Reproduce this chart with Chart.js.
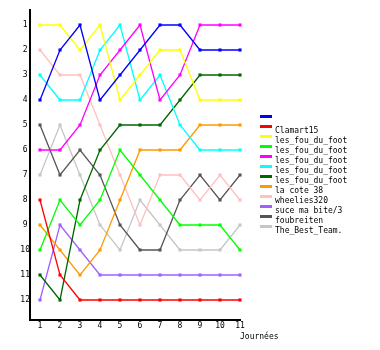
<!DOCTYPE html>
<html>
<head>
<meta charset="utf-8">
<script src="https://cdn.jsdelivr.net/npm/chart.js@4.4.1/dist/chart.umd.min.js"></script>
<style>
    html, body { margin: 0; padding: 0; background: #fff; }
    canvas { display: block; }
</style>
</head>
<body>
<canvas id="classement" width="380" height="350"></canvas>
<script>
// Classement par journée (1 = premier)
const journees = [1, 2, 3, 4, 5, 6, 7, 8, 9, 10, 11];
const rangTicks = [1, 2, 3, 4, 5, 6, 7, 8, 9, 10, 11, 12];

const equipes = ['', 'Clamart15', 'les_fou_du_foot', 'les_fou_du_foot', 'les_fou_du_foot',
    'les_fou_du_foot', 'les_fou_du_foot', 'la cote 38', 'wheelies320', 'suce ma bite/3',
    'foubreiten', 'The_Best_Team.'];
const couleurs = ['#0000ff', '#ff0000', '#ffff00', '#00ff00', '#ff00ff', '#00ffff',
    '#006600', '#ff9900', '#ffc0c0', '#a060ff', '#555555', '#c6c6c6'];

const rangBleu      = [4, 2, 1, 4, 3, 2, 1, 1, 2, 2, 2];
const rangClamart   = [8, 11, 12, 12, 12, 12, 12, 12, 12, 12, 12];
const rangJaune     = [1, 1, 2, 1, 4, 3, 2, 2, 4, 4, 4];
const rangVert      = [10, 8, 9, 8, 6, 7, 8, 9, 9, 9, 10];
const rangMagenta   = [6, 6, 5, 3, 2, 1, 4, 3, 1, 1, 1];
const rangCyan      = [3, 4, 4, 2, 1, 4, 3, 5, 6, 6, 6];
const rangVertFonce = [11, 12, 8, 6, 5, 5, 5, 4, 3, 3, 3];
const rangCote38    = [9, 10, 11, 10, 8, 6, 6, 6, 5, 5, 5];
const rangWheelies  = [2, 3, 3, 5, 7, 9, 7, 7, 8, 7, 8];
const rangSuce      = [12, 9, 10, 11, 11, 11, 11, 11, 11, 11, 11];
const rangFoubreit  = [5, 7, 6, 7, 9, 10, 10, 8, 7, 8, 7];
const rangBestTeam  = [7, 5, 7, 9, 10, 8, 9, 10, 10, 10, 9];

const series = [rangBleu, rangClamart, rangJaune, rangVert, rangMagenta, rangCyan,
    rangVertFonce, rangCote38, rangWheelies, rangSuce, rangFoubreit, rangBestTeam];

const police = '"DejaVu Sans Mono", "Liberation Mono", monospace';

// Legende + titre d'axe dessines a la main (position fixe a droite)
const legendePlugin = {
    id: 'legendeFixe',
    afterDraw(chart) {
        const ctx = chart.ctx;
        ctx.save();
        ctx.font = '8px ' + police;
        ctx.fillStyle = '#000';
        ctx.textBaseline = 'middle';
        ctx.textAlign = 'left';
        ctx.fillText('Journées', 240, 337);
        chart.data.datasets.forEach((ds, i) => {
            const y = 116.5 + i * 10;
            ctx.strokeStyle = ds.borderColor;
            ctx.lineWidth = 3;
            ctx.beginPath();
            ctx.moveTo(260, y);
            ctx.lineTo(272, y);
            ctx.stroke();
            ctx.fillStyle = '#000';
            ctx.fillText(ds.label, 275, y + 4);
        });
        ctx.restore();
    }
};

new Chart(document.getElementById('classement'), {
    type: 'line',
    data: {
        datasets: series.map((vals, i) => ({
            label: equipes[i],
            data: journees.map((j, k) => ({ x: j, y: vals[k] })),
            borderColor: couleurs[i],
            backgroundColor: couleurs[i],
            borderWidth: 1.3,
            pointStyle: 'rect',
            pointRadius: 2.2,
            pointBorderWidth: 0,
            pointBackgroundColor: couleurs[i],
            tension: 0,
            fill: false,
            clip: false
        }))
    },
    options: {
        responsive: false,
        animation: false,
        layout: { padding: { top: 10, right: 140, left: 0, bottom: 0 } },
        plugins: {
            legend: { display: false },
            tooltip: { enabled: false }
        },
        scales: {
            x: {
                type: 'linear',
                min: 0.5,
                max: 11,
                afterFit: (s) => { s.height = 30; },
                afterBuildTicks: (s) => { s.ticks = journees.map(v => ({ value: v })); },
                grid: { display: false, drawTicks: false },
                border: { display: true, color: '#000', width: 2 },
                ticks: { color: '#000', font: { family: police, size: 8 }, padding: 1, maxRotation: 0 }
            },
            y: {
                type: 'linear',
                reverse: true,
                min: 0.4,
                max: 12.8,
                afterFit: (s) => { s.width = 30; },
                afterBuildTicks: (s) => { s.ticks = rangTicks.map(v => ({ value: v })); },
                grid: { display: false, drawTicks: false },
                border: { display: true, color: '#000', width: 2 },
                ticks: { color: '#000', font: { family: police, size: 8 }, padding: 0, crossAlign: 'center' }
            }
        }
    },
    plugins: [legendePlugin]
});
</script>
</body>
</html>
